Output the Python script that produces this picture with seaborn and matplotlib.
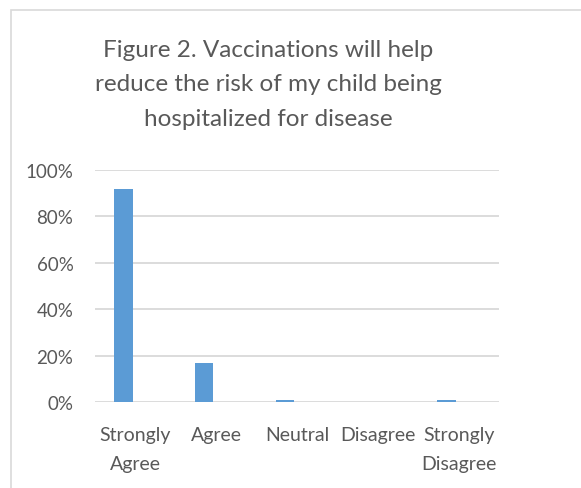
import matplotlib
matplotlib.use("Agg")
import matplotlib.pyplot as plt
import seaborn as sns
import pandas as pd
from matplotlib.patches import Rectangle
from matplotlib.ticker import PercentFormatter

# Survey responses (share of respondents)
categories = ["Strongly\nAgree", "Agree", "Neutral", "Disagree", "Strongly\nDisagree"]
responses = [0.92, 0.17, 0.01, 0.0, 0.01]
# second, empty series kept from the original workbook (takes the right-hand slot)
blank_series = [0.0, 0.0, 0.0, 0.0, 0.0]
y_ticks = [0.0, 0.2, 0.4, 0.6, 0.8, 1.0]
title = "Figure 2. Vaccinations will help\nreduce the risk of my child being\nhospitalized for disease"

df = pd.DataFrame({
    "category": categories * 2,
    "value": responses + blank_series,
    "series": ["Responses"] * 5 + ["Blank"] * 5,
})

sns.set_theme(style="white")
plt.rcParams["font.family"] = ["Lato", "DejaVu Sans"]

W, H = 581, 489
fig = plt.figure(figsize=(W / 100, H / 100), dpi=100)
ax = fig.add_axes([95 / W, 1 - 403 / H, (499 - 95) / W, (403 - 171) / H])

sns.barplot(data=df, x="category", y="value", hue="series",
            hue_order=["Responses", "Blank"],
            palette=["#5B9BD5", "#5B9BD5"], saturation=1,
            width=0.594, gap=0.23,
            linewidth=0, legend=False, ax=ax)

ax.set_ylim(0, 1.0)
ax.set_xlim(-0.5, 4.5)
ax.set_yticks(y_ticks)
ax.yaxis.set_major_formatter(PercentFormatter(1.0, decimals=0))
ax.grid(axis="y", color="#D9D9D9", linewidth=1.3)
ax.set_axisbelow(True)
for s in ax.spines.values():
    s.set_visible(False)
ax.set_xlabel("")
ax.set_ylabel("")
ax.tick_params(axis="y", length=0, pad=15.5, labelsize=13.5, labelcolor="#595959")
ax.tick_params(axis="x", length=0, pad=17.5, labelsize=14, labelcolor="#595959")
for lbl in ax.get_xticklabels():
    lbl.set_linespacing(1.8)

fig.text(268 / W, 1 - 85 / H, title, ha="center", va="center",
         fontsize=17.5, color="#595959", linespacing=1.78)

# chart area border
fig.patches.append(Rectangle((11 / W, -0.1), 1.2, 1 - 11 / H + 0.1,
                             transform=fig.transFigure, fill=False,
                             edgecolor="#D9D9D9", linewidth=1.2))

fig.savefig("out.png", dpi=100, facecolor="white")
